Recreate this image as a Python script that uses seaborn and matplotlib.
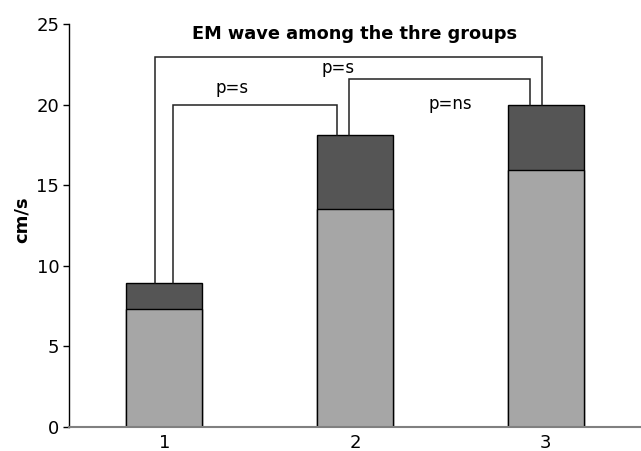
import matplotlib
matplotlib.use("Agg")
import matplotlib.pyplot as plt
import seaborn as sns
import pandas as pd

categories = ["1", "2", "3"]
lower_vals = [7.33, 13.5, 15.93]
total_vals = [8.94, 18.09, 19.96]

# brackets: (left bar, left offset, right bar, right offset, height)
bracket_left = [0, 0, 1]
bracket_left_off = [-0.047, 0.045, -0.031]
bracket_right = [2, 1, 2]
bracket_right_off = [-0.017, -0.092, -0.08]
bracket_height = [22.96, 19.97, 21.6]
p_labels = ["p=s", "p=s", "p=ns"]
p_label_x = [0.91, 0.355, 1.5]
p_label_y = [22.3, 21.0, 20.06]

sns.set_style("white")
plt.rcParams["font.family"] = ["DejaVu Sans"]
plt.rcParams["text.color"] = "black"
plt.rcParams["axes.labelcolor"] = "black"
plt.rcParams["xtick.color"] = "black"
plt.rcParams["ytick.color"] = "black"

fig = plt.figure(figsize=(6.41, 4.51), dpi=100)
ax = fig.add_axes([0.1076, 0.0532, 0.8924, 0.8936])

df = pd.DataFrame({"cat": categories, "lower": lower_vals, "total": total_vals})
sns.barplot(data=df, x="cat", y="total", color="#555555", width=0.4,
            edgecolor="black", linewidth=1, saturation=1, ax=ax)
sns.barplot(data=df, x="cat", y="lower", color="#a6a6a6", width=0.4,
            edgecolor="black", linewidth=1, saturation=1, ax=ax)

for lb, lo, rb, ro, h in zip(bracket_left, bracket_left_off, bracket_right,
                             bracket_right_off, bracket_height):
    xl = lb + lo
    xr = rb + ro
    ax.plot([xl, xl, xr, xr], [total_vals[lb], h, h, total_vals[rb]],
            color="#222222", lw=1.1, solid_joinstyle="miter")

for lab, x, y in zip(p_labels, p_label_x, p_label_y):
    ax.text(x, y, lab, ha="center", va="center", fontsize=12, color="black")

ax.text(1.0, 24.35, "EM wave among the thre groups", ha="center", va="center",
        fontsize=12.8, fontweight="bold", color="black")

ax.set_xlim(-0.5, 2.5)
ax.set_ylim(0, 25)
ax.set_yticks([0, 5, 10, 15, 20, 25])
ax.set_xticks([0, 1, 2])
ax.set_xticklabels(categories)
ax.set_xticks([-0.5, 0.5, 1.5, 2.5], minor=True)
ax.tick_params(axis="x", which="major", length=0, labelsize=13, pad=5)
ax.tick_params(axis="x", which="minor", length=4, color="#808080", width=1, direction="out")
ax.tick_params(axis="y", length=4, width=1, color="black", labelsize=13, direction="out",
               left=True, pad=3)
ax.set_xlabel("")
ax.set_ylabel("cm/s", fontsize=13, fontweight="bold")
ax.yaxis.set_label_coords(-0.066, 0.515)

for s in ["top", "right"]:
    ax.spines[s].set_visible(False)
ax.spines["left"].set_color("black")
ax.spines["left"].set_linewidth(1)
ax.spines["bottom"].set_color("#808080")
ax.spines["bottom"].set_linewidth(1.5)

fig.savefig("out.png", dpi=100)
